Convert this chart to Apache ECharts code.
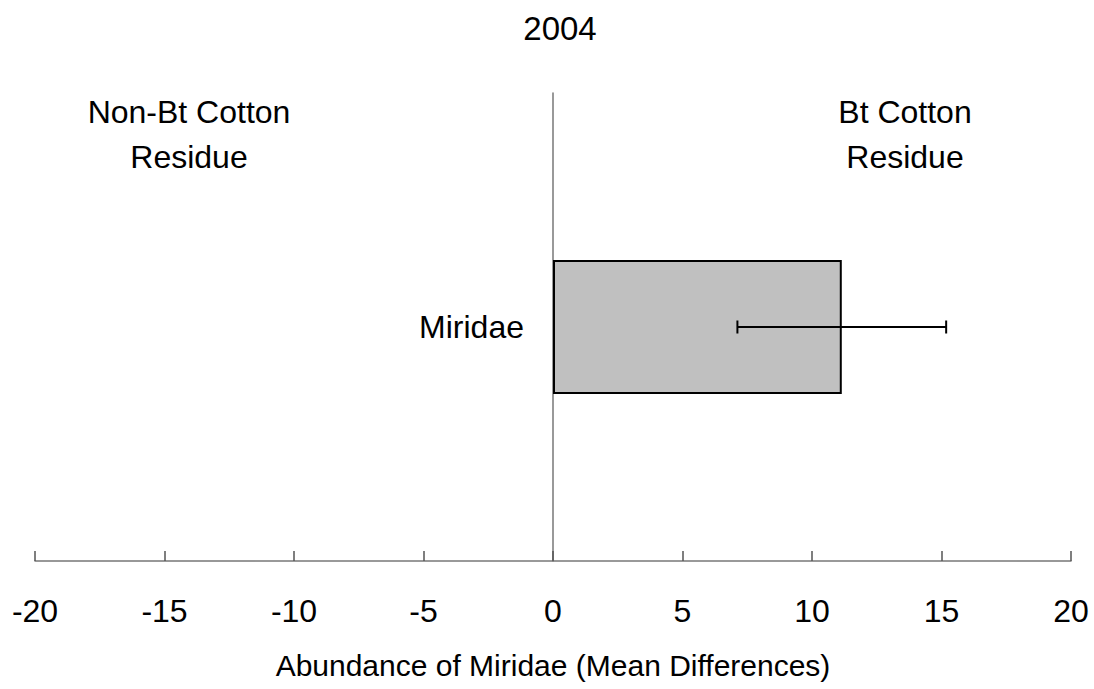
<!DOCTYPE html>
<html>
<head>
<meta charset="utf-8">
<script src="https://cdn.jsdelivr.net/npm/echarts@6/dist/echarts.min.js"></script>
<style>
  html, body { margin: 0; padding: 0; background: #ffffff; }
  #chart { width: 1094px; height: 689px; }
</style>
</head>
<body>
<div id="chart"></div>
<script>
// Mean difference in Miridae abundance (Bt minus non-Bt residue), 2004
const categories = ['Miridae'];
const meanValues = [11.15];
const errorValues = [4.03];
const xTicks = [-20, -15, -10, -5, 0, 5, 10, 15, 20];

const FONT = '"Liberation Sans", Arial, Helvetica, sans-serif';

const errorData = categories.map((c, i) => [meanValues[i] - errorValues[i], meanValues[i] + errorValues[i], i]);

const chart = echarts.init(document.getElementById('chart'), null, { renderer: 'svg' });

chart.setOption({
  animation: false,
  backgroundColor: '#ffffff',
  textStyle: { fontFamily: FONT },
  grid: { left: 35, right: 23, top: 93, bottom: 128, containLabel: false, outerBoundsMode: 'none' },
  graphic: [
    { type: 'text', x: 560, y: 28, style: { text: '2004', font: '33px ' + FONT, fill: '#000', textAlign: 'center', textVerticalAlign: 'middle' } },
    { type: 'text', x: 189, y: 134, style: { text: 'Non-Bt Cotton\nResidue', font: '32px ' + FONT, lineHeight: 45, fill: '#000', textAlign: 'center', textVerticalAlign: 'middle' } },
    { type: 'text', x: 905, y: 134, style: { text: 'Bt Cotton\nResidue', font: '32px ' + FONT, lineHeight: 45, fill: '#000', textAlign: 'center', textVerticalAlign: 'middle' } }
  ],
  xAxis: {
    type: 'value',
    min: xTicks[0],
    max: xTicks[xTicks.length - 1],
    interval: 5,
    name: 'Abundance of Miridae (Mean Differences)',
    nameLocation: 'middle',
    nameGap: 89,
    nameTextStyle: { fontSize: 30, color: '#000', fontFamily: FONT },
    axisLine: { show: true, onZero: false, lineStyle: { color: '#777777', width: 1.5 } },
    axisTick: { show: true, inside: true, length: 10, lineStyle: { color: '#555555', width: 1.5 } },
    axisLabel: { fontSize: 32, color: '#000', margin: 34, fontFamily: FONT },
    splitLine: { show: false }
  },
  yAxis: {
    type: 'category',
    data: categories,
    axisLine: { show: true, onZero: true, lineStyle: { color: '#777777', width: 1.5 } },
    axisTick: { show: false },
    axisLabel: { show: false },
    splitLine: { show: false }
  },
  series: [
    {
      type: 'bar',
      data: meanValues,
      barWidth: 134,
      itemStyle: { color: '#c0c0c0', borderColor: '#000000', borderWidth: 2 },
      label: {
        show: true,
        position: 'left',
        distance: 29,
        formatter: '{b}',
        fontSize: 32,
        color: '#000',
        fontFamily: FONT
      },
      z: 2
    },
    {
      type: 'custom',
      data: errorData,
      encode: { x: [0, 1], y: 2 },
      z: 3,
      renderItem: function (params, api) {
        const lo = api.coord([api.value(0), api.value(2)]);
        const hi = api.coord([api.value(1), api.value(2)]);
        const cap = 6.5;
        const style = { stroke: '#000000', lineWidth: 2, fill: null };
        return {
          type: 'group',
          children: [
            { type: 'line', shape: { x1: lo[0], y1: lo[1], x2: hi[0], y2: hi[1] }, style: style },
            { type: 'line', shape: { x1: lo[0], y1: lo[1] - cap, x2: lo[0], y2: lo[1] + cap }, style: style },
            { type: 'line', shape: { x1: hi[0], y1: hi[1] - cap, x2: hi[0], y2: hi[1] + cap }, style: style }
          ]
        };
      }
    }
  ]
});
</script>
</body>
</html>
